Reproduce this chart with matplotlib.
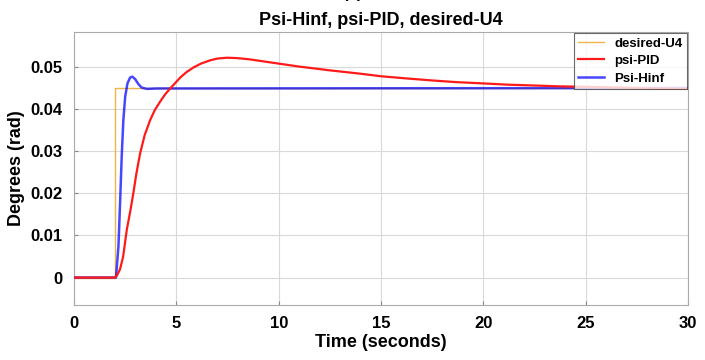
import matplotlib
matplotlib.use("Agg")
import matplotlib.pyplot as plt

# step reference
t_ref = [0, 2.0, 2.0, 30]
y_ref = [0, 0, 0.045, 0.045]

# PID response
t_pid = [0, 2.0, 2.1, 2.25, 2.4, 2.58, 2.75, 2.9, 3.05, 3.23, 3.45, 3.72, 3.95, 4.21, 4.45, 4.7,
         5.19, 5.5, 5.84, 6.2, 6.66, 7.0, 7.47, 8.0, 8.6, 9.3, 10.0, 11.0, 12.5, 14.0, 15.0,
         16.2, 17.5, 18.7, 20.0, 21.2, 22.5, 23.7, 25.0, 27.5, 30.0]
y_pid = [0, 0, 0.0005, 0.002, 0.005, 0.0114, 0.0158, 0.0201, 0.0248, 0.0295, 0.0338, 0.0374, 0.0398,
         0.0418, 0.0435, 0.0449, 0.0475, 0.0488, 0.0499, 0.0508, 0.0516, 0.0520, 0.0522, 0.0521,
         0.0518, 0.0513, 0.0508, 0.0501, 0.0492, 0.0484, 0.0478, 0.0473, 0.0468, 0.0464, 0.0461,
         0.0458, 0.0456, 0.0454, 0.0453, 0.0450, 0.0448]

# Hinf response
t_hinf = [0, 2.0, 2.05, 2.17, 2.25, 2.33, 2.41, 2.5, 2.61, 2.74, 2.85, 2.99, 3.15, 3.31, 3.56, 4.05, 30.0]
y_hinf = [0, 0, 0.0, 0.0074, 0.0177, 0.0288, 0.0374, 0.0430, 0.0461, 0.0475, 0.0477, 0.0471, 0.0459,
          0.0451, 0.0448, 0.0449, 0.045]

plt.rcParams['font.family'] = ['Liberation Sans', 'DejaVu Sans']
plt.rcParams['font.weight'] = 'bold'

fig = plt.figure(figsize=(7.05, 3.6), dpi=100)
ax = fig.add_axes([0.105, 0.153, 0.871, 0.758])

ax.plot(t_ref, y_ref, color='#f0b54a', linewidth=1.0, label='desired-U4', zorder=2)
ax.plot(t_hinf, y_hinf, color='#0000ff', alpha=0.72, linewidth=1.8, label='Psi-Hinf', zorder=3)
ax.plot(t_pid, y_pid, color='#ff1a1a', linewidth=1.6, label='psi-PID', zorder=4)

ax.set_xlim(0, 30)
ax.set_ylim(-0.0065, 0.0583)
ax.set_xticks(range(0, 31, 5))
ax.set_yticks([0, 0.01, 0.02, 0.03, 0.04, 0.05])
ax.set_yticklabels(['0', '0.01', '0.02', '0.03', '0.04', '0.05'])
ax.tick_params(direction='in', labelsize=12, length=3, color='#888888', pad=8)
for lab in ax.get_xticklabels() + ax.get_yticklabels():
    lab.set_fontweight('bold')
ax.grid(True, color='#d9d9d9', linewidth=0.8)
for s in ax.spines.values():
    s.set_color('#aaaaaa')
    s.set_linewidth(0.8)

ax.set_xlabel('Time (seconds)', fontsize=13, fontweight='bold', labelpad=2)
ax.set_ylabel('Degrees (rad)', fontsize=13, fontweight='bold', labelpad=4)
ax.set_title('Psi-Hinf, psi-PID, desired-U4', fontsize=13, fontweight='bold', pad=5)
fig.text(0.5, 1.018, '(a)', ha='center', va='center', fontsize=12, fontweight='bold')

h, l = ax.get_legend_handles_labels()
order = [0, 2, 1]
leg = ax.legend([h[i] for i in order], [l[i] for i in order], loc='upper right',
                fontsize=9.5, frameon=True, fancybox=False, borderaxespad=0.1,
                handlelength=2.0, labelspacing=0.4, borderpad=0.3)
leg.get_frame().set_edgecolor('#444444')
leg.get_frame().set_linewidth(0.8)
for txt in leg.get_texts():
    txt.set_fontweight('bold')

fig.savefig('out.png', dpi=100)
